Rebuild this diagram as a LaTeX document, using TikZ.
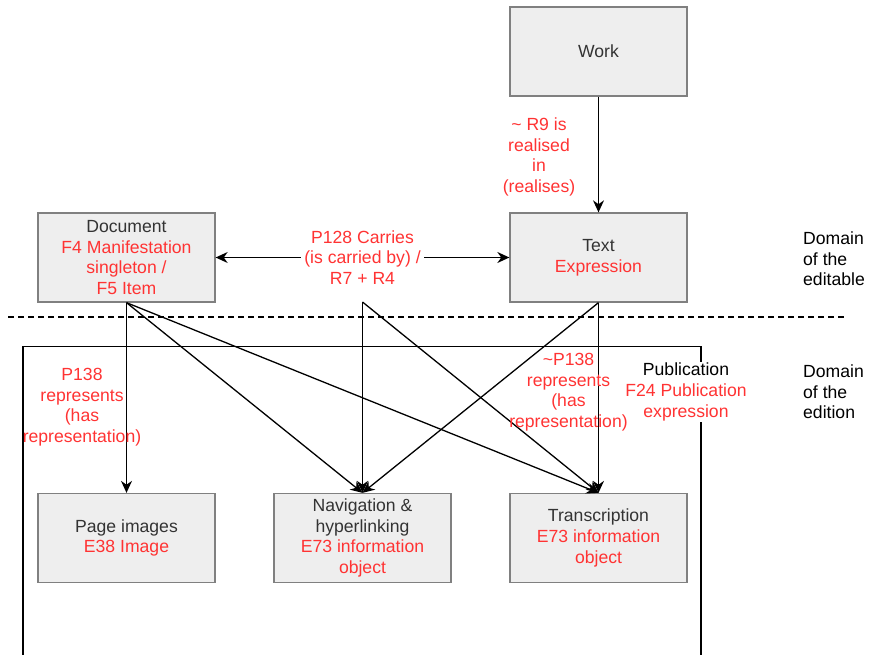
\documentclass[tikz,border=0pt]{standalone}
\usepackage{fontspec}
\setmainfont{Liberation Sans}
\usetikzlibrary{arrows.meta}
\definecolor{boxfill}{HTML}{EEEEEE}
\definecolor{boxline}{HTML}{808080}
\definecolor{boxtext}{HTML}{333333}
\definecolor{lblred}{HTML}{FF3333}
\begin{document}
\begin{tikzpicture}[x=1pt,y=-1pt,
  every node/.style={font=\fontsize{17.6}{20.6}\selectfont, align=center, inner sep=2pt},
  entity/.style={draw=boxline, fill=boxfill, line width=1.3pt, minimum width=177pt, minimum height=89pt, text=boxtext},
  conn/.style={line width=1.3pt, -{Stealth[length=12pt,width=11pt]}},
  rel/.style={text=lblred},
]
\useasboundingbox (0,0) rectangle (870,655);

% domain separator
\draw[line width=1.1pt, dash pattern=on 6pt off 4pt] (8,317) -- (845,317);

% publication container
\draw[line width=1.3pt] (23,655) -- (23,346.5) -- (701,346.5) -- (701,655);
\node[fill=white, inner sep=1pt] (pub) at (686,392) {Publication\\\textcolor{lblred}{F24 Publication}\\\textcolor{lblred}{expression}};

% boxes
\node[entity] (work) at (598.5,51.5) {Work};
\node[entity] (text) at (598.5,257.5) {Text\\\textcolor{lblred}{Expression}};
\node[entity] (doc) at (126.5,257.5) {Document\\\textcolor{lblred}{F4 Manifestation}\\\textcolor{lblred}{singleton /}\\\textcolor{lblred}{F5 Item}};
\node[entity] (page) at (126.5,538) {Page images\\\textcolor{lblred}{E38 Image}};
\node[entity] (nav) at (362.5,538) {Navigation \&\\hyperlinking\\\textcolor{lblred}{E73 information}\\\textcolor{lblred}{object}};
\node[entity] (trans) at (598.5,538) {Transcription\\\textcolor{lblred}{E73 information}\\\textcolor{lblred}{object}};

% domain labels
\node[anchor=west, align=left] (dedit) at (801,259) {Domain\\of the\\editable};
\node[anchor=west, align=left] (dedition) at (801,392) {Domain\\of the\\edition};

% Work -> Text
\draw[conn] (work.south) -- (text.north);
\node[rel] (r9) at (539,157) {\textasciitilde{} R9 is\\realised\\in\\(realises)};

% Document <-> Text
\draw[conn, {Stealth[length=12pt,width=11pt]}-{Stealth[length=12pt,width=11pt]}] (doc.east) -- (text.west)
  node[midway, fill=white, rel, inner sep=3pt] (carries) {P128 Carries\\(is carried by) /\\R7 + R4};
\coordinate (carryfoot) at (362.5,302);

% Document -> lower boxes
\draw[conn] (doc.south) -- (page.north);
\draw[conn] (doc.south) -- (nav.north);
\draw[conn] (doc.south) -- (trans.north);
\node[rel] (p138) at (82,407) {P138\\represents\\(has\\representation)};

% from carries relation
\draw[conn] (carryfoot) -- (nav.north);
\draw[conn] (carryfoot) -- (trans.north);

% Text -> lower boxes
\draw[conn] (text.south) -- (trans.north);
\draw[conn] (text.south) -- (nav.north);
\node[rel] (np138) at (568.5,392) {\textasciitilde P138\\represents\\(has\\representation)};
\end{tikzpicture}
\end{document}
